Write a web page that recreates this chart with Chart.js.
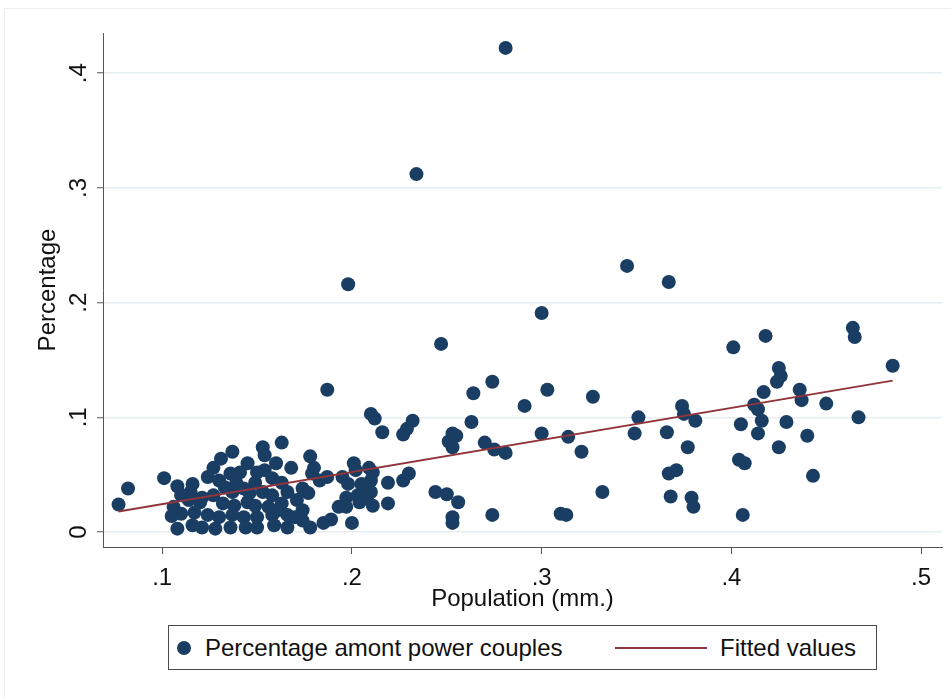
<!DOCTYPE html>
<html>
<head>
<meta charset="utf-8">
<script src="https://cdn.jsdelivr.net/npm/chart.js@4"></script>
<style>
  html, body { margin: 0; padding: 0; background: #fff; }
  #wrap { position: relative; width: 951px; height: 698px; font-family: "Liberation Sans", Arial, sans-serif; color: #111; }
  #frame { position: absolute; left: 4px; top: 8px; right: 0; bottom: 0; border-top: 1px solid #efefef; border-left: 1px solid #efefef; }
  #chart { position: absolute; left: 0; top: 0; }
  #legend { position: absolute; left: 168px; top: 625px; width: 707px; height: 43px; border: 1px solid #4a4a4a; background: #fff; font-size: 24px; }
  #legend span { position: absolute; }
  .dot { left: 8px; top: 15px; width: 14px; height: 14px; border-radius: 50%; background: #1a3d63; }
  .lbl { top: 8px; line-height: 27px; white-space: nowrap; }
  .seg { left: 446px; top: 21px; width: 92px; height: 2px; background: #90353b; }
</style>
</head>
<body>
<div id="wrap">
  <div id="frame"></div>
  <canvas id="chart" width="951" height="698"></canvas>
  <div id="legend">
    <span class="dot"></span>
    <span class="lbl" style="left:36px">Percentage amont power couples</span>
    <span class="seg"></span>
    <span class="lbl" style="left:551px">Fitted values</span>
  </div>
</div>
<script>
// population (mm.) and share among power couples, one entry per metro area
const popX = [
  0.281, 0.234, 0.198, 0.345, 0.367, 0.300, 0.247, 0.187, 0.401, 0.418, 0.464, 0.465, 0.485,
  0.425, 0.426, 0.424, 0.417, 0.436, 0.437, 0.450, 0.412, 0.414, 0.416, 0.429, 0.405, 0.414,
  0.440, 0.425, 0.467, 0.374, 0.375, 0.381, 0.351, 0.349, 0.366, 0.377, 0.367, 0.371, 0.368,
  0.379, 0.380, 0.404, 0.407, 0.443, 0.406,
  0.274, 0.264, 0.303, 0.327, 0.291, 0.263, 0.300, 0.314, 0.270, 0.275, 0.281, 0.321, 0.332,
  0.274, 0.310, 0.313,
  0.210, 0.212, 0.216, 0.232, 0.229, 0.227, 0.253, 0.255, 0.251, 0.253, 0.244, 0.250, 0.256,
  0.253, 0.253,
  0.178, 0.180, 0.179, 0.187, 0.183, 0.201, 0.202, 0.209, 0.211, 0.210, 0.195, 0.198, 0.197,
  0.205, 0.206, 0.203, 0.208, 0.204, 0.210, 0.211, 0.219, 0.227, 0.230, 0.219, 0.193, 0.197,
  0.174, 0.177, 0.174, 0.178, 0.185, 0.189, 0.200,
  0.163, 0.153, 0.154, 0.137, 0.131, 0.145, 0.160, 0.168, 0.127, 0.130, 0.136, 0.141, 0.150,
  0.154, 0.139, 0.149, 0.158, 0.163, 0.121, 0.127, 0.137, 0.143, 0.153, 0.158, 0.166, 0.132,
  0.138, 0.145, 0.149, 0.156, 0.163, 0.171, 0.174, 0.124, 0.130, 0.137, 0.143, 0.150, 0.158,
  0.166, 0.121, 0.128, 0.136, 0.144, 0.150, 0.159, 0.166,
  0.133, 0.146, 0.161, 0.170, 0.115,
  0.077, 0.082, 0.101, 0.108, 0.116, 0.110, 0.114, 0.106, 0.120, 0.105, 0.110, 0.117, 0.116,
  0.108, 0.124
];
const pctY = [
  0.422, 0.312, 0.216, 0.232, 0.218, 0.191, 0.164, 0.124, 0.161, 0.171, 0.178, 0.170, 0.145,
  0.143, 0.136, 0.131, 0.122, 0.124, 0.115, 0.112, 0.111, 0.107, 0.097, 0.096, 0.094, 0.086,
  0.084, 0.074, 0.100, 0.110, 0.103, 0.097, 0.100, 0.086, 0.087, 0.074, 0.051, 0.054, 0.031,
  0.030, 0.022, 0.063, 0.060, 0.049, 0.015,
  0.131, 0.121, 0.124, 0.118, 0.110, 0.096, 0.086, 0.083, 0.078, 0.072, 0.069, 0.070, 0.035,
  0.015, 0.016, 0.015,
  0.103, 0.099, 0.087, 0.097, 0.090, 0.085, 0.086, 0.084, 0.079, 0.074, 0.035, 0.033, 0.026,
  0.013, 0.008,
  0.066, 0.056, 0.051, 0.048, 0.045, 0.060, 0.054, 0.056, 0.052, 0.045, 0.048, 0.042, 0.030,
  0.042, 0.036, 0.032, 0.030, 0.026, 0.035, 0.023, 0.043, 0.045, 0.051, 0.025, 0.022, 0.022,
  0.038, 0.034, 0.010, 0.004, 0.008, 0.011, 0.008,
  0.078, 0.074, 0.067, 0.070, 0.064, 0.060, 0.060, 0.056, 0.056, 0.045, 0.051, 0.052, 0.052,
  0.054, 0.043, 0.043, 0.047, 0.043, 0.030, 0.032, 0.035, 0.038, 0.035, 0.032, 0.035, 0.025,
  0.023, 0.026, 0.023, 0.022, 0.025, 0.028, 0.019, 0.015, 0.013, 0.015, 0.013, 0.013, 0.015,
  0.015, 0.004, 0.003, 0.004, 0.004, 0.004, 0.006, 0.004,
  0.039, 0.034, 0.019, 0.013, 0.035,
  0.024, 0.038, 0.047, 0.040, 0.042, 0.032, 0.028, 0.022, 0.026, 0.014, 0.016, 0.017, 0.006,
  0.003, 0.048
];

// fitted values at the smallest and largest population
const fitX = [0.077, 0.485];
const fitY = [0.018, 0.132];

const xTicks = [0.1, 0.2, 0.3, 0.4, 0.5];
const yTicks = [0, 0.1, 0.2, 0.3, 0.4];

const NAVY = '#1a3d63';
const RED = '#90353b';
const AXIS = '#555555';
const GRID = '#e7eef2';
const FONT = { family: '"Liberation Sans", Arial, sans-serif', size: 24 };

// Stata-style labels: ".1" instead of "0.1"
const fmt = v => (v === 0 ? '0' : v.toFixed(1).replace(/^0/, ''));

const points = popX.map((x, i) => ({ x: x, y: pctY[i] }));
const fitted = fitX.map((x, i) => ({ x: x, y: fitY[i] }));

new Chart(document.getElementById('chart'), {
  type: 'scatter',
  data: {
    datasets: [
      {
        type: 'line',
        label: 'Fitted values',
        data: fitted,
        borderColor: RED,
        borderWidth: 2,
        pointRadius: 0,
        fill: false,
        order: 0
      },
      {
        label: 'Percentage amont power couples',
        data: points,
        backgroundColor: NAVY,
        borderWidth: 0,
        pointRadius: 7,
        pointHoverRadius: 7,
        order: 1
      }
    ]
  },
  options: {
    responsive: false,
    animation: false,
    devicePixelRatio: 1,
    layout: { padding: { left: 34, top: 33, right: 9, bottom: 84 } },
    plugins: { legend: { display: false }, tooltip: { enabled: false } },
    scales: {
      x: {
        type: 'linear',
        min: 0.0688,
        max: 0.511,
        afterBuildTicks: s => { s.ticks = xTicks.map(v => ({ value: v })); },
        afterFit: s => { s.height = 67; },
        grid: { drawOnChartArea: false, tickLength: 7, tickColor: AXIS, tickWidth: 1 },
        border: { color: AXIS, width: 1 },
        ticks: { color: '#111', font: FONT, padding: 10, maxRotation: 0, autoSkip: false, callback: fmt },
        title: { display: true, text: 'Population (mm.)', color: '#111', font: FONT, padding: 0 }
      },
      y: {
        type: 'linear',
        min: -0.013,
        max: 0.435,
        afterBuildTicks: s => { s.ticks = yTicks.map(v => ({ value: v })); },
        afterFit: s => { s.width = 69; },
        grid: { color: GRID, lineWidth: 1.5, tickLength: 6, tickColor: AXIS, tickWidth: 1 },
        border: { color: AXIS, width: 1 },
        ticks: { color: '#111', font: FONT, padding: 8, minRotation: 90, maxRotation: 90, crossAlign: 'center', autoSkip: false, callback: fmt },
        title: { display: true, text: 'Percentage', color: '#111', font: FONT, padding: 0 }
      }
    }
  }
});
</script>
</body>
</html>
